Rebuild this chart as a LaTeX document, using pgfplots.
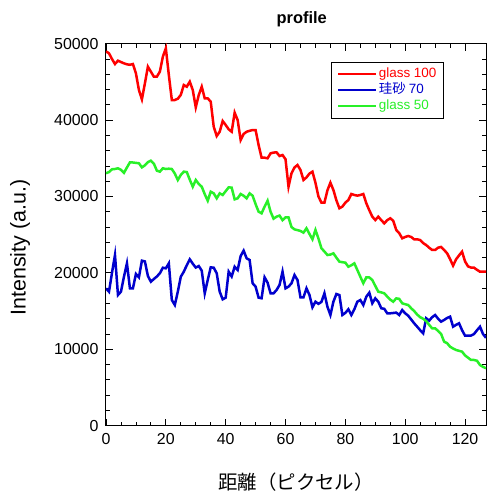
\documentclass[border=0pt]{standalone}
\usepackage{fontspec}
\setmainfont{Liberation Sans}
\newfontfamily\cjk{Noto Sans CJK JP}
\usepackage{pgfplots}
\usepackage{pgfplotstable}
\pgfplotsset{compat=1.18}
\definecolor{cred}{RGB}{255,0,0}
\definecolor{cblue}{RGB}{0,0,205}
\definecolor{cgreen}{RGB}{40,240,40}

\pgfplotstableread{
x red green blue
0 49000 33040 17980
1 48740 33200 17540
2 48000 33560 20000
3 47340 33600 22340
4 47780 33690 17110
5 47600 33500 17540
6 47430 33100 19500
7 47300 33800 21250
8 47240 34470 17980
9 47340 34450 17980
10 46125 34400 19860
11 43940 34350 19420
12 42720 33820 21600
13 44800 34080 21500
14 46990 34500 19600
15 46340 34690 18850
16 45680 34300 19200
17 45680 33380 19530
18 46340 33250 19950
19 48300 33690 20680
20 49400 33600 20600
21 45900 33640 21250
22 42630 33600 16450
23 42630 33000 15800
24 42800 32160 17540
25 43300 32820 19500
26 44590 33250 20160
27 44370 33200 21000
28 45030 32200 21780
29 43940 31280 21200
30 41670 32160 20700
31 43280 31640 20900
32 44370 31280 20290
33 42850 30300 17330
34 42850 29450 19070
35 42410 30630 20730
36 39140 30410 20680
37 37920 29760 19950
38 38480 30410 17540
39 39880 30200 16540
40 39360 30700 16760
41 38800 31200 20160
42 38480 31160 19530
43 40970 29630 20810
44 40000 29760 20380
45 37400 30330 22210
46 38180 30100 22910
47 38480 29760 21910
48 38600 30410 21690
49 38700 30100 18640
50 38700 29000 18200
51 36740 28010 16760
52 35080 27800 16680
53 35080 28670 19420
54 35000 29450 18720
55 35650 28010 17330
56 35750 27100 17330
57 35780 27360 17760
58 35300 27500 18420
59 35430 26900 20160
60 34870 27270 17980
61 31280 27270 18200
62 33040 26000 18640
63 33800 25700 19720
64 34120 25600 19070
65 33470 25490 16800
66 32160 25270 16800
67 32500 25840 17980
68 33000 25100 17110
69 33250 24400 15500
70 31800 25620 16230
71 30000 24500 15950
72 29190 23220 16200
73 29190 22800 17330
74 30800 22340 15580
75 31810 22400 14490
76 30850 22560 16230
77 29500 22000 17240
78 28460 21470 17100
79 28680 21400 14490
80 29200 21340 14770
81 29540 20810 15240
82 30330 21000 14490
83 30200 21250 15240
84 30110 20380 16230
85 30200 19500 16450
86 30330 18640 15800
87 29110 19420 16890
88 28200 19400 17410
89 27360 19070 16020
90 26920 18300 16670
91 27360 17540 16230
92 26900 17450 15370
93 26490 17330 15300
94 26900 16900 14710
95 27150 16500 14710
96 26820 16230 14750
97 25620 16670 14800
98 25200 16600 14490
99 24530 16020 15140
100 24700 15900 14710
101 24830 15800 14400
102 24700 15370 13900
103 24390 15000 13400
104 24400 14550 12960
105 24300 14200 12500
106 23900 14000 12090
107 23650 13700 14060
108 23300 13200 13750
109 23000 12750 14200
110 23000 12750 14490
111 23300 12400 14000
112 23400 12000 13620
113 23000 11000 13840
114 22570 10800 14100
115 21800 10340 14270
116 20950 10100 12960
117 21780 9910 13200
118 22300 9800 13400
119 22780 9690 12500
120 21500 9200 11780
121 20850 8900 11780
122 20700 8600 11800
123 20680 8600 12000
124 20400 8500 12500
125 20160 7940 12960
126 20160 7700 12000
127 20160 7510 11500
}\datatable

\begin{document}
\begin{tikzpicture}
\path[use as bounding box] (-106bp,-68.3bp) rectangle (383bp,425.7bp);
\begin{axis}[
  at={(0,0)}, anchor=south west,
  scale only axis, width=380bp, height=382bp,
  xmin=0, xmax=127, ymin=0, ymax=50000,
  xtick={0,20,...,120}, minor x tick num=3,
  ytick={0,10000,...,50000}, minor y tick num=4,
  tick align=inside, ticks=both,
  major tick length=7bp, minor tick length=4bp,
  every tick/.style={black, line width=0.8bp},
  axis line style={line width=1bp},
  scaled y ticks=false,
  /pgf/number format/assume math mode=true,
  /pgf/number format/1000 sep={},
  tick label style={font=\fontsize{16}{18}\selectfont},
  xticklabel style={yshift=-4bp},
  yticklabel style={xshift=-4bp},
  title={\bfseries profile},
  title style={font=\fontsize{16.5}{18}\selectfont, at={(axis description cs:0.515,1.049)}, anchor=center, yshift=0pt},
  xlabel={\cjk 距離（ピクセル）},
  xlabel style={font=\fontsize{19.5}{22}\selectfont, at={(axis description cs:0.5,-0.147)}, anchor=center},
  ylabel={Intensity (a.u.)},
  ylabel style={font=\fontsize{21.5}{24}\selectfont, at={(axis description cs:-0.226,0.466)}, anchor=center, rotate=0},
  legend style={at={(axis description cs:0.592,0.953)}, anchor=north west,
    draw=black, line width=0.8bp, font=\fontsize{13.5}{15}\selectfont,
    inner xsep=5.5bp, inner ysep=4bp, row sep=0bp,
    nodes={inner sep=1.5bp, text height=10bp, text depth=3bp}},
  legend cell align=left,
  legend image code/.code={\draw[#1, line width=2.5bp] (0bp,0bp) -- (38bp,0bp);},
]
\addplot[cred, line width=2.5bp] table[x=x, y=red] {\datatable};
\addlegendentry{\textcolor{cred}{glass 100}}
\addplot[cblue, line width=2.5bp] table[x=x, y=blue] {\datatable};
\addlegendentry{\textcolor{cblue}{\cjk 珪砂\ \textrm{70}}}
\addplot[cgreen, line width=2.5bp] table[x=x, y=green] {\datatable};
\addlegendentry{\textcolor{cgreen}{glass 50}}
\end{axis}
\end{tikzpicture}
\end{document}
